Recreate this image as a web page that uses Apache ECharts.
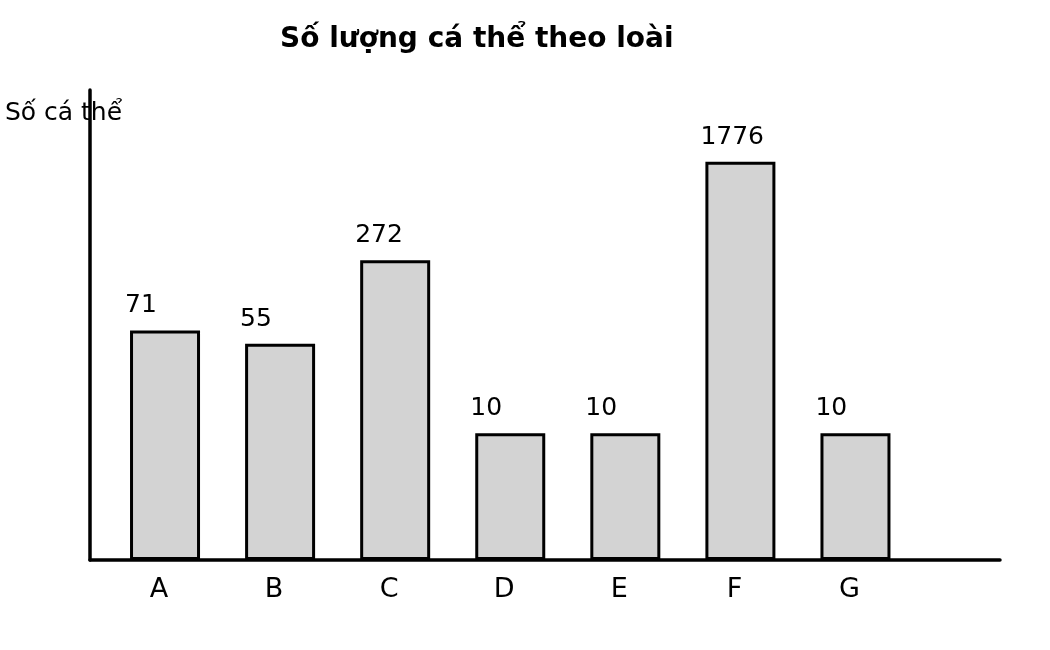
<!DOCTYPE html>
<html>

<head>
	<meta charset="utf-8">
	<title>so luong ca the</title>
	<script src="https://cdn.jsdelivr.net/npm/echarts@6/dist/echarts.min.js"></script>
</head>

<body style="margin:0">
	<div id="bar_chart" style="width:1050px;height:650px;"></div>
	<script>
		// species and counts
		var species = ['A', 'B', 'C', 'D', 'E', 'F', 'G'];
		var counts = [71, 55, 272, 10, 10, 1776, 10];

		var chartDom = document.getElementById('bar_chart');
		var myChart = echarts.init(chartDom, null, { renderer: 'canvas' });

		// bars sit on a numeric x position so the layout can be offset like the original
		var barData = counts.map(function (v, i) { return [i, v]; });

		var option = {
			animation: false,
			textStyle: { fontFamily: 'DejaVu Sans' },
			title: {
				text: 'Số lượng cá thể theo loài',
				left: 275,
				top: 21,
				textStyle: { fontSize: 28, fontWeight: 'bold', color: '#000', fontFamily: 'DejaVu Sans' }
			},
			grid: { left: 90, right: 50, top: 90, bottom: 90 },
			xAxis: {
				type: 'value',
				min: -0.652,
				max: 7.256,
				splitNumber: 8,
				axisLine: { onZero: false, lineStyle: { color: '#000', width: 3.5 } },
				axisTick: { show: false },
				splitLine: { show: false },
				axisLabel: {
					color: '#000',
					fontSize: 27,
					margin: 16,
					padding: [0, 12, 0, 0],
					showMinLabel: false,
					showMaxLabel: false,
					formatter: function (v) {
						var i = Math.round(v);
						return (Math.abs(v - i) < 1e-6 && species[i]) ? species[i] : '';
					}
				}
			},
			yAxis: {
				type: 'log',
				min: 0.888,
				max: 7000,
				startValue: 0.888,
				name: 'Số cá thể',
				nameLocation: 'end',
				nameGap: -36,
				nameTextStyle: { color: '#000', fontSize: 25, align: 'center', verticalAlign: 'bottom', padding: [0, 53, 0, 0] },
				axisLine: { show: true, onZero: false, lineStyle: { color: '#000', width: 3.5 } },
				axisTick: { show: false },
				axisLabel: { show: false },
				splitLine: { show: false }
			},
			series: [{
				type: 'bar',
				data: barData,
				barWidth: 70,
				itemStyle: { color: '#d3d3d3', borderColor: '#000', borderWidth: 3 },
				label: {
					show: true,
					position: [-5, -12],
					align: 'left',
					verticalAlign: 'bottom',
					fontSize: 25,
					lineHeight: 25,
					color: '#000',
					formatter: function (p) { return p.value[1]; }
				}
			}]
		};
		myChart.setOption(option);
	</script>
</body>

</html>
